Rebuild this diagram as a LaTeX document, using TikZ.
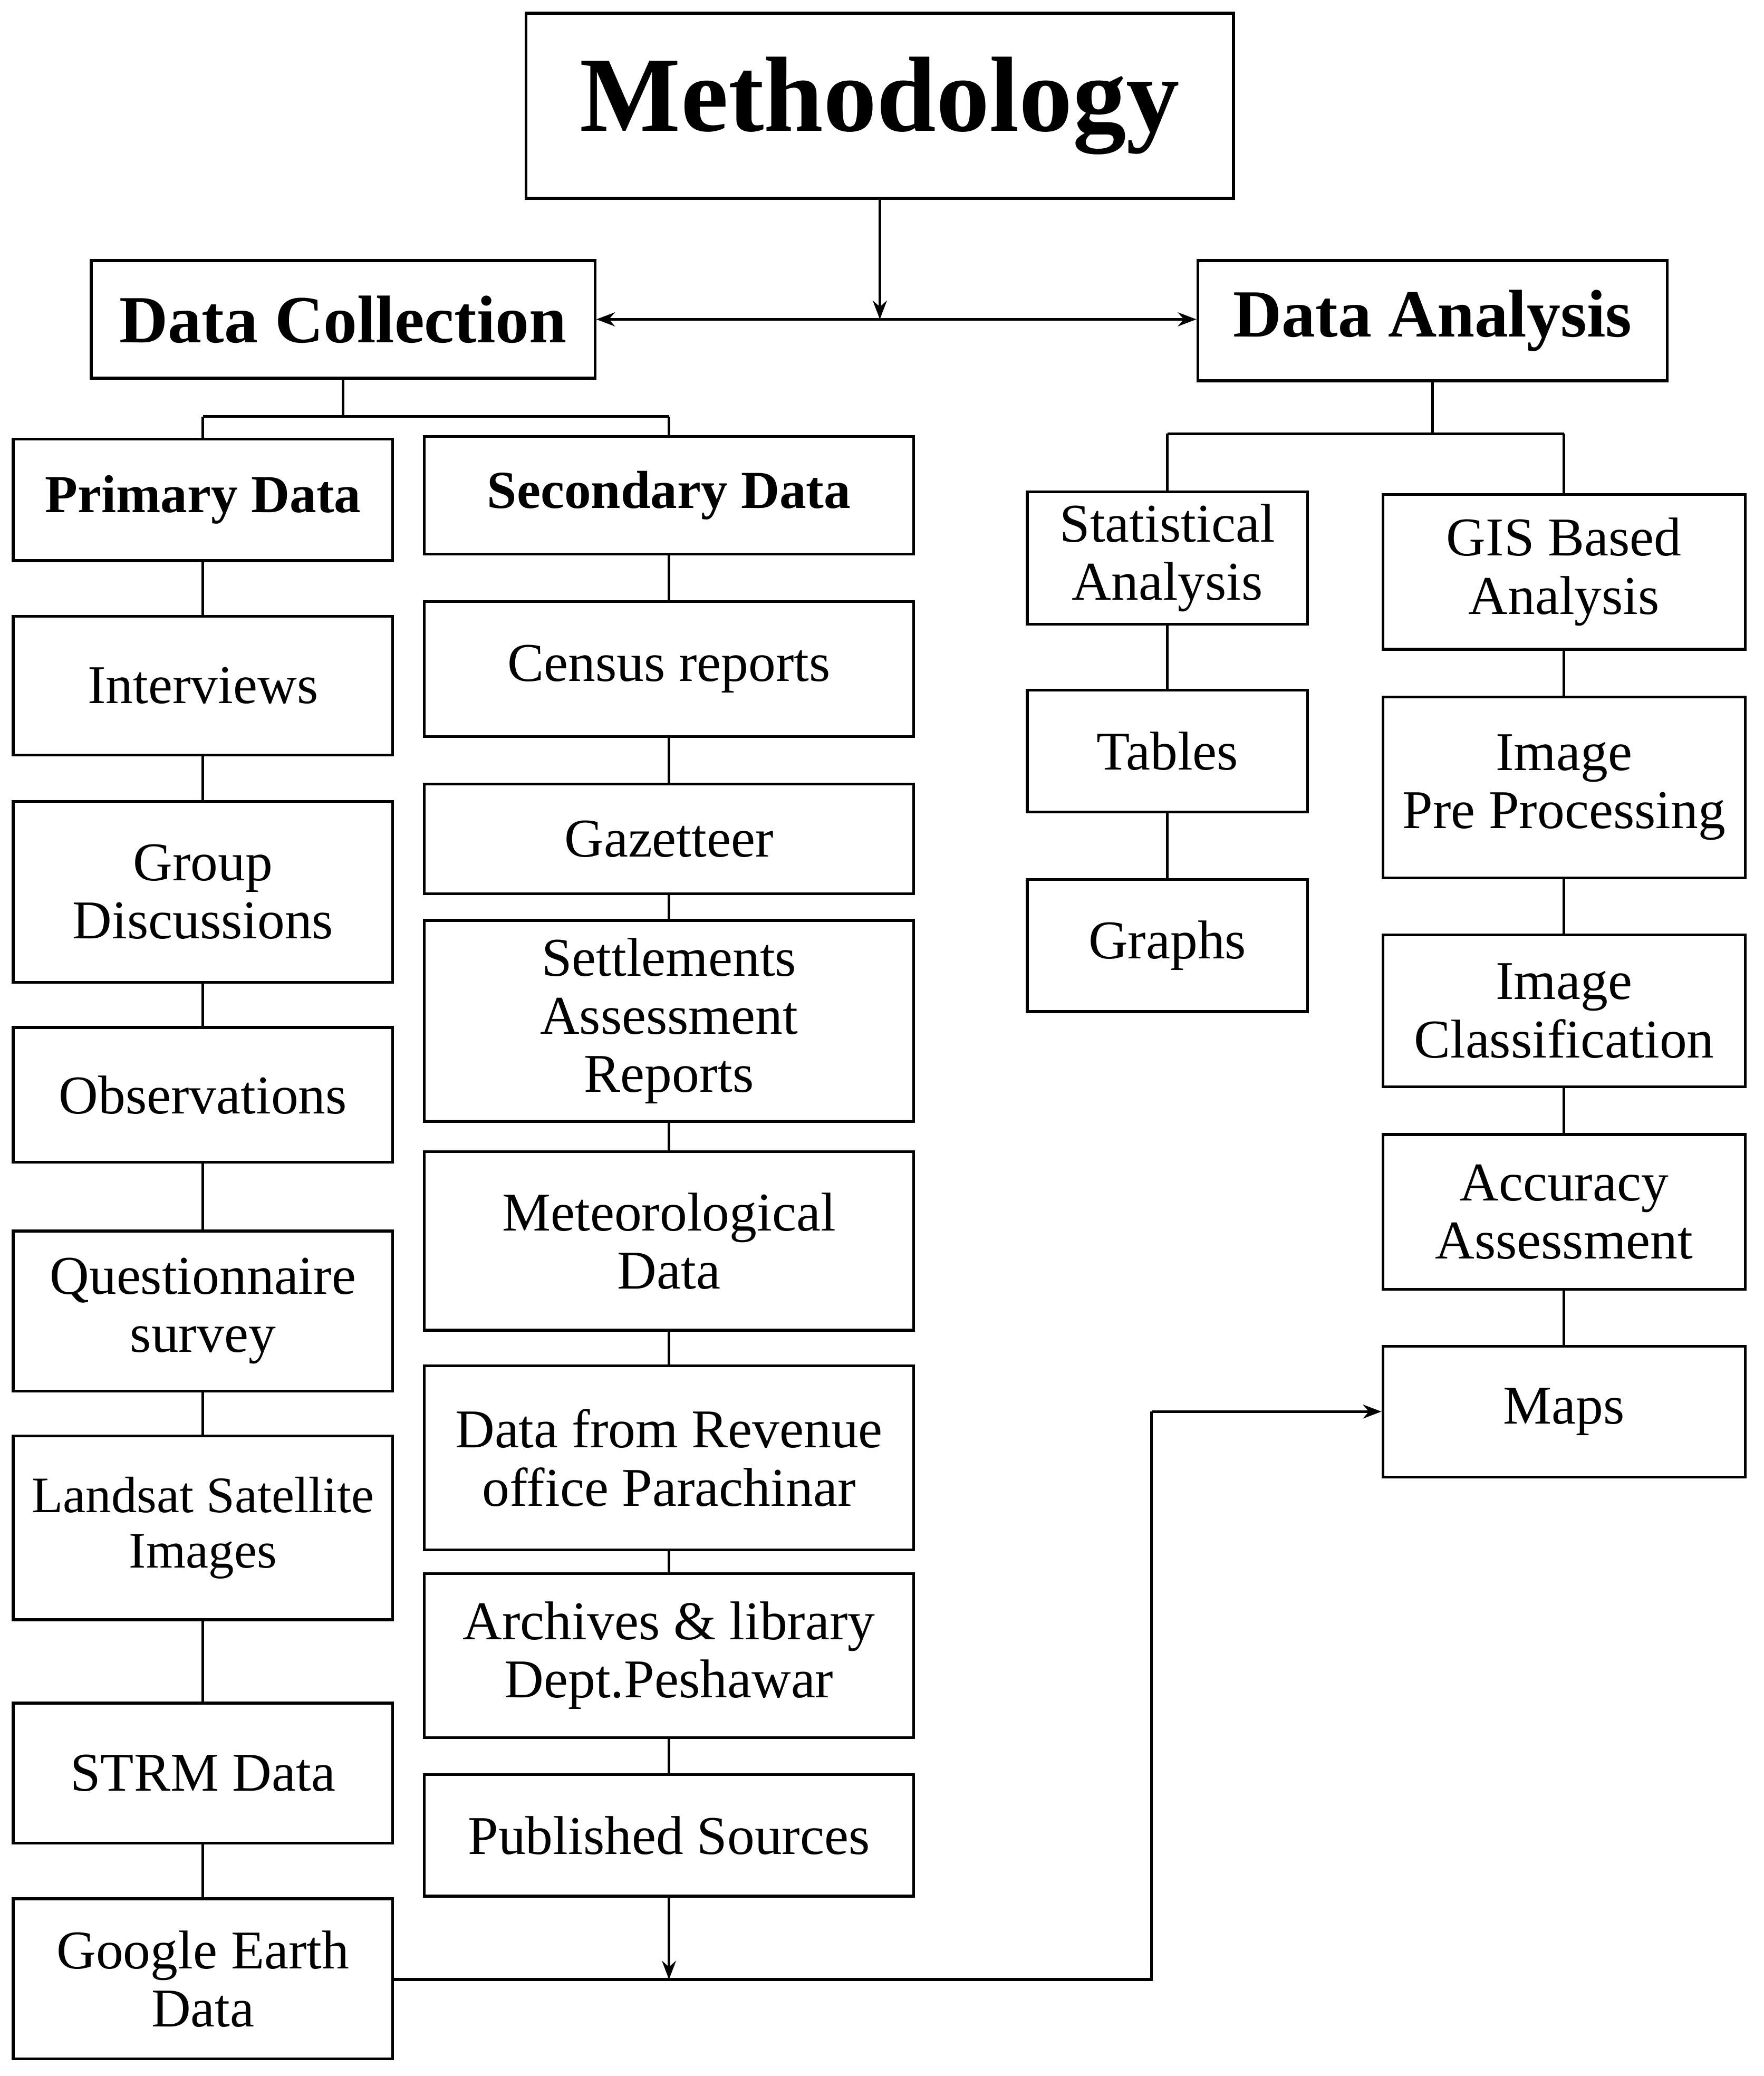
\documentclass[tikz,border=0pt]{standalone}
\usepackage{fontspec}
\setmainfont{Liberation Serif}
\usetikzlibrary{arrows.meta,calc}
\begin{document}
\begin{tikzpicture}[x=0.02cm,y=-0.02cm,
  box/.style={draw,line width=1.2pt,inner sep=0pt,align=center,font=\fontsize{23.5}{25}\selectfont},
  bb/.style={font=\bfseries\fontsize{23}{26}\selectfont},
  ln/.style={line width=1.2pt},
  ar/.style={ln,-{Stealth[length=8pt,width=6pt]}}]
\useasboundingbox (0,0) rectangle (1334,1570);
\newcommand\bx[7]{\node[box,#7,minimum width={(#4-#2)*0.02cm},minimum height={(#5-#3)*0.02cm}] (#1) at ({(#2+#4)/2},{(#3+#5)/2}) {#6};}
\bx{meth}{398}{10}{933}{150}{Methodology}{font=\bfseries\fontsize{46}{50}\selectfont}
\bx{dc}{69}{197}{450}{286}{Data Collection}{font=\bfseries\fontsize{29}{34}\selectfont}
\bx{da}{906}{197}{1261}{288}{Data Analysis}{font=\bfseries\fontsize{29}{34}\selectfont}
\bx{pd}{10}{332}{297}{424}{Primary Data}{bb}
\bx{sd}{321}{330}{691}{419}{Secondary Data}{bb}
\bx{p1}{10}{466}{297}{571}{Interviews}{}
\bx{p2}{10}{606}{297}{743}{Group\\Discussions}{}
\bx{p3}{10}{777}{297}{879}{Observations}{}
\bx{p4}{10}{931}{297}{1052}{Questionnaire\\survey}{}
\bx{p5}{10}{1086}{297}{1225}{Landsat Satellite\\Images}{font=\fontsize{22}{24}\selectfont}
\bx{p6}{10}{1288}{297}{1394}{STRM Data}{}
\bx{p7}{10}{1436}{297}{1557}{Google Earth\\Data}{}
\bx{s1}{321}{455}{691}{557}{Census reports}{}
\bx{s2}{321}{593}{691}{676}{Gazetteer}{}
\bx{s3}{321}{696}{691}{848}{Settlements\\Assessment\\Reports}{}
\bx{s4}{321}{871}{691}{1006}{Meteorological\\Data}{}
\bx{s5}{321}{1033}{691}{1172}{Data from Revenue\\office Parachinar}{}
\bx{s6}{321}{1190}{691}{1314}{Archives \& library\\Dept.Peshawar}{}
\bx{s7}{321}{1342}{691}{1434}{Published Sources}{}
\bx{a1}{777}{372}{989}{472}{Statistical\\Analysis}{}
\bx{a2}{777}{522}{989}{614}{Tables}{}
\bx{a3}{777}{665}{989}{765}{Graphs}{}
\bx{g1}{1046}{374}{1320}{491}{GIS Based\\Analysis}{}
\bx{g2}{1046}{527}{1320}{664}{Image\\Pre Processing}{}
\bx{g3}{1046}{707}{1320}{822}{Image\\Classification}{}
\bx{g4}{1046}{858}{1320}{975}{Accuracy\\Assessment}{}
\bx{g5}{1046}{1018}{1320}{1117}{Maps}{}
\coordinate (mid) at (meth.south |- dc.east);
\draw[ar] (meth.south) -- (mid);
\draw[ar,{Stealth[length=8pt,width=6pt]}-{Stealth[length=8pt,width=6pt]}] (dc.east) -- (dc.east -| da.west);
\coordinate (dcj) at (253,315);
\draw[ln] (dc.south) -- (dc.south |- dcj);
\draw[ln] (pd.north |- dcj) -- (sd.north |- dcj);
\draw[ln] (pd.north |- dcj) -- (pd.north);
\draw[ln] (sd.north |- dcj) -- (sd.north);
\coordinate (daj) at (1073,328);
\draw[ln] (da.south) -- (da.south |- daj);
\draw[ln] (a1.north |- daj) -- (g1.north |- daj);
\draw[ln] (a1.north |- daj) -- (a1.north);
\draw[ln] (g1.north |- daj) -- (g1.north);
\foreach \a/\b in {pd/p1,p1/p2,p2/p3,p3/p4,p4/p5,p5/p6,p6/p7,sd/s1,s1/s2,s2/s3,s3/s4,s4/s5,s5/s6,s6/s7,a1/a2,a2/a3,g1/g2,g2/g3,g3/g4,g4/g5}
  \draw[ln] (\a) -- (\b);
\coordinate (corner) at (871,1497);
\draw[ln] (p7.east |- corner) -- (corner) -- (corner |- g5.west);
\draw[ar] (corner |- g5.west) -- (g5.west);
\draw[ar] (s7.south) -- (s7.south |- corner);
\end{tikzpicture}
\end{document}
